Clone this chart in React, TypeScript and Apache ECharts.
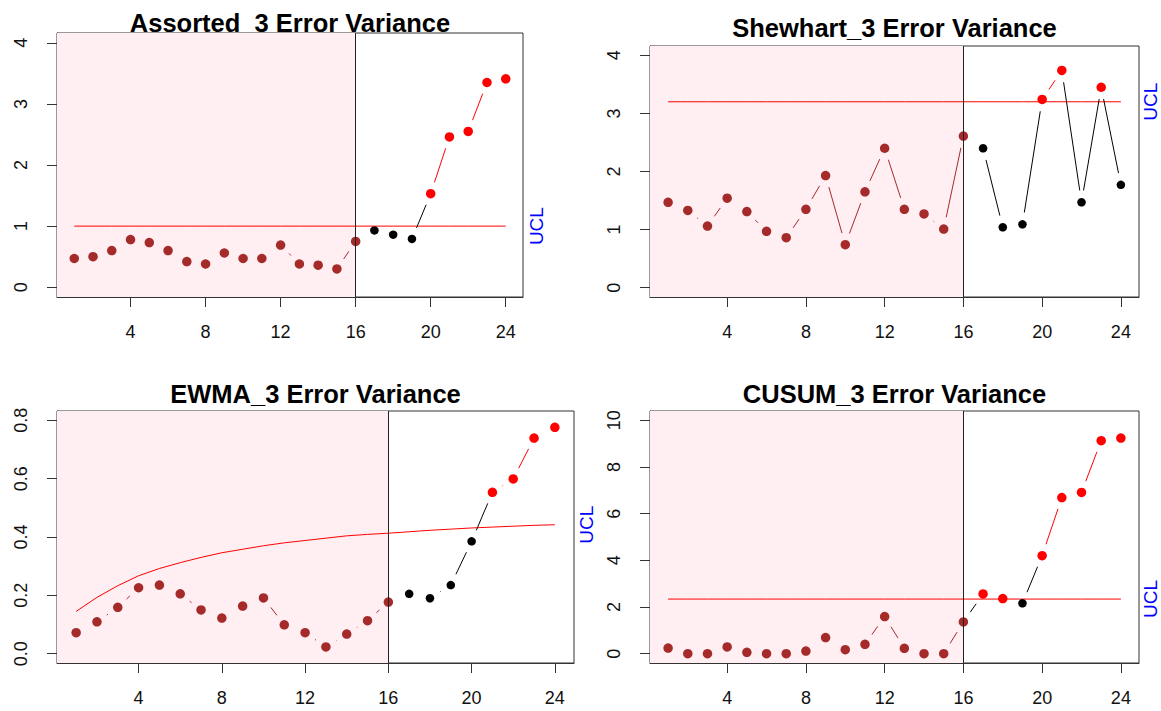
import React, { useEffect, useRef } from "react";
import * as echarts from "echarts";

// ---------- data ----------
const sampleIndex = [1, 2, 3, 4, 5, 6, 7, 8, 9, 10, 11, 12, 13, 14, 15, 16, 17, 18, 19, 20, 21, 22, 23, 24];
const phaseOneEnd = 16;

const assortedValues = [0.47, 0.5, 0.6, 0.78, 0.73, 0.6, 0.42, 0.38, 0.56, 0.47, 0.47, 0.69, 0.38, 0.36, 0.3, 0.75, 0.93, 0.86, 0.79, 1.53, 2.46, 2.55, 3.35, 3.41];
const assortedUcl = 1.0;

const shewhartValues = [1.47, 1.33, 1.06, 1.54, 1.31, 0.97, 0.86, 1.35, 1.93, 0.74, 1.65, 2.4, 1.35, 1.27, 1.01, 2.61, 2.4, 1.04, 1.09, 3.24, 3.74, 1.47, 3.45, 1.77];
const shewhartUcl = 3.2;

const ewmaValues = [0.072, 0.109, 0.159, 0.226, 0.235, 0.205, 0.15, 0.122, 0.163, 0.191, 0.099, 0.072, 0.023, 0.067, 0.113, 0.177, 0.205, 0.19, 0.235, 0.385, 0.553, 0.599, 0.739, 0.776];
const ewmaUclCurve = [0.145, 0.193, 0.233, 0.267, 0.292, 0.312, 0.33, 0.346, 0.358, 0.37, 0.38, 0.388, 0.396, 0.404, 0.409, 0.413, 0.418, 0.423, 0.427, 0.431, 0.434, 0.437, 0.44, 0.442];

const cusumValues = [0.24, 0.0, 0.0, 0.29, 0.06, 0.0, 0.0, 0.11, 0.69, 0.17, 0.4, 1.59, 0.23, 0.0, 0.0, 1.36, 2.56, 2.36, 2.16, 4.2, 6.69, 6.91, 9.13, 9.24];
const cusumUcl = 2.34;

const xTicks = [4, 8, 12, 16, 20, 24];
const yTicksAssorted = [0, 1, 2, 3, 4];
const yTicksShewhart = [0, 1, 2, 3, 4];
const yTicksEwma = [0, 0.2, 0.4, 0.6, 0.8];
const yTicksCusum = [0, 2, 4, 6, 8, 10];

const titles = ["Assorted  3 Error Variance", "Shewhart_3 Error Variance", "EWMA_3 Error Variance", "CUSUM_3 Error Variance"];
const uclLabel = "UCL";

// ---------- styling / layout ----------
const BROWN = "#A52A2A";
const RED = "#FF0000";
const BLACK = "#000000";
const PINK = "#FFEEF2";
const FRAME = "#333333";
const FONT = '"Liberation Sans", Arial, sans-serif';
const GAP = 12;

const panels = [
  { grid: { left: 57, top: 33, width: 466, height: 264 }, yMin: -0.16, yMax: 4.16, yTicks: yTicksAssorted, dec: 0, values: assortedValues, ucl: sampleIndex.map(() => assortedUcl), titleY: 22.5, uclDx: 13 },
  { grid: { left: 650, top: 46, width: 489, height: 251 }, yMin: -0.16, yMax: 4.16, yTicks: yTicksShewhart, dec: 0, values: shewhartValues, ucl: sampleIndex.map(() => shewhartUcl), titleY: 28, uclDx: 11 },
  { grid: { left: 57, top: 411, width: 517, height: 252 }, yMin: -0.032, yMax: 0.832, yTicks: yTicksEwma, dec: 1, values: ewmaValues, ucl: ewmaUclCurve, titleY: 393.5, uclDx: 12 },
  { grid: { left: 650, top: 411, width: 489, height: 252 }, yMin: -0.4, yMax: 10.4, yTicks: yTicksCusum, dec: 0, values: cusumValues, ucl: sampleIndex.map(() => cusumUcl), titleY: 393.5, uclDx: 11 },
];

const xMin = 0.08;
const xMax = 24.92;
const segColors = [BROWN, BLACK, RED];

function pointKind(i: number, v: number, ucl: number) {
  if (sampleIndex[i] <= phaseOneEnd) return 0;
  return v > ucl ? 2 : 1;
}

export default function App() {
  const ref = useRef<HTMLDivElement>(null);
  useEffect(() => {
    if (!ref.current) return;
    const chart = echarts.init(ref.current, undefined, { renderer: "svg" });
    const grid: any[] = [];
    const xAxis: any[] = [];
    const yAxis: any[] = [];
    const series: any[] = [];

    panels.forEach((p, k) => {
      grid.push({ ...p.grid, show: true, borderColor: FRAME, borderWidth: 1, containLabel: false, outerBoundsMode: "none" });
      xAxis.push({
        type: "value", gridIndex: k, min: xMin, max: xMax,
        axisLine: { show: true, onZero: false, lineStyle: { color: FRAME, width: 1 } },
        splitLine: { show: false },
        axisTick: { show: true, length: 10, customValues: xTicks, lineStyle: { color: FRAME, width: 1 } },
        axisLabel: { customValues: xTicks, fontSize: 18, fontFamily: FONT, color: "#111", margin: 26 },
      });
      yAxis.push({
        type: "value", gridIndex: k, min: p.yMin, max: p.yMax,
        axisLine: { show: true, onZero: false, lineStyle: { color: FRAME, width: 1 } },
        splitLine: { show: false },
        axisTick: { show: true, length: 10, customValues: p.yTicks, lineStyle: { color: FRAME, width: 1 } },
        axisLabel: { customValues: p.yTicks, rotate: 90, fontSize: 18, fontFamily: FONT, color: "#111", margin: 27, formatter: (v: number) => v.toFixed(p.dec) },
      });

      // background: pink phase I region and vertical separator
      series.push({
        type: "line", xAxisIndex: k, yAxisIndex: k, data: [], z: 1, silent: true,
        markArea: { silent: true, itemStyle: { color: PINK }, data: [[{ xAxis: xMin }, { xAxis: phaseOneEnd }]] },
        markLine: { silent: true, symbol: ["none", "none"], label: { show: false }, lineStyle: { color: "#222", width: 1, type: "solid" }, data: [{ xAxis: phaseOneEnd }] },
      });
      // UCL line
      series.push({
        type: "line", xAxisIndex: k, yAxisIndex: k, z: 2, silent: true, symbol: "none",
        lineStyle: { color: RED, width: 1 },
        data: sampleIndex.map((x, i) => [x, p.ucl[i]]),
      });
      // connecting segments with gaps (type "b")
      const kinds = p.values.map((v, i) => pointKind(i, v, p.ucl[i]));
      const segs: number[][] = [];
      for (let i = 0; i < sampleIndex.length - 1; i++) {
        let c = 1;
        if (sampleIndex[i + 1] <= phaseOneEnd) c = 0;
        else if (kinds[i] === 2 && kinds[i + 1] === 2) c = 2;
        segs.push([sampleIndex[i], p.values[i], sampleIndex[i + 1], p.values[i + 1], c]);
      }
      series.push({
        type: "custom", xAxisIndex: k, yAxisIndex: k, z: 3, silent: true,
        encode: { x: [0, 2], y: [1, 3] },
        data: segs,
        renderItem: (_params: any, api: any) => {
          const a = api.coord([api.value(0), api.value(1)]);
          const b = api.coord([api.value(2), api.value(3)]);
          const dx = b[0] - a[0];
          const dy = b[1] - a[1];
          const len = Math.hypot(dx, dy);
          if (len <= 2 * GAP) return { type: "group", children: [] };
          const ux = dx / len, uy = dy / len;
          return {
            type: "line",
            shape: { x1: a[0] + ux * GAP, y1: a[1] + uy * GAP, x2: b[0] - ux * GAP, y2: b[1] - uy * GAP },
            style: { stroke: segColors[api.value(4)], lineWidth: 1 },
          };
        },
      });
      // points
      series.push({
        type: "scatter", xAxisIndex: k, yAxisIndex: k, z: 4, silent: true,
        data: p.values.map((v, i) => ({
          value: [sampleIndex[i], v],
          symbolSize: kinds[i] === 1 ? 8.5 : 9.5,
          itemStyle: { color: [BROWN, BLACK, RED][kinds[i]], opacity: 1 },
        })),
      });
    });

    chart.setOption({ animation: false, backgroundColor: "#ffffff", grid, xAxis, yAxis, series });

    const graphic: any[] = [];
    panels.forEach((p, k) => {
      graphic.push({
        type: "text", x: p.grid.left + p.grid.width / 2, y: p.titleY, silent: true,
        style: { text: titles[k], align: "center", verticalAlign: "middle", fontSize: 25.5, fontWeight: "bold", fontFamily: FONT, fill: "#000" },
      });
      const yPix = chart.convertToPixel({ yAxisIndex: k } as any, p.ucl[p.ucl.length - 1]) as number;
      graphic.push({
        type: "text", x: p.grid.left + p.grid.width + p.uclDx, y: yPix, rotation: Math.PI / 2, silent: true,
        style: { text: uclLabel, align: "center", verticalAlign: "middle", fontSize: 19, fontFamily: FONT, fill: "#0000FF" },
      });
    });
    chart.setOption({ graphic });

    return () => chart.dispose();
  }, []);
  return <div ref={ref} style={{ position: "absolute", left: 0, top: 0, width: 1161, height: 711, background: "#fff" }} />;
}
